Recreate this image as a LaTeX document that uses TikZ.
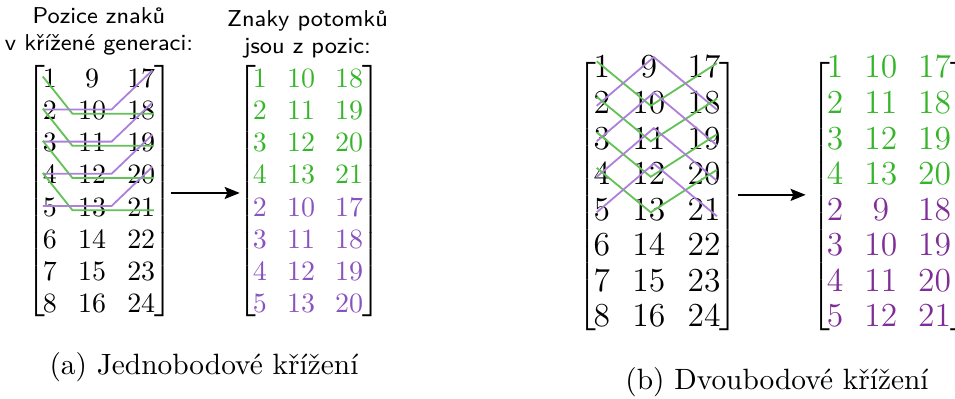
\documentclass[tikz,border=0pt]{standalone}
\usepackage{tikz}
\usetikzlibrary{arrows.meta,positioning,matrix}
\definecolor{kidgreen}{HTML}{36B52B}
\definecolor{kidpurple}{HTML}{8A52BE}
\definecolor{kidplum}{HTML}{7E2E96}
\definecolor{cutgreen}{HTML}{62C255}
\definecolor{cutpurple}{HTML}{AD80D9}
\tikzset{
  every left delimiter/.style  = {xshift=4.4pt},
  every right delimiter/.style = {xshift=-3.6pt},
  posmat/.style   = {matrix of math nodes, left delimiter={[}, right delimiter={]},
                     inner sep=2pt, nodes={inner sep=0pt, anchor=center}},
  kids/.style     = {nodes={text=kidgreen},
                     row 5/.style={nodes={text=#1}}, row 6/.style={nodes={text=#1}},
                     row 7/.style={nodes={text=#1}}, row 8/.style={nodes={text=#1}}},
  bigcells/.style = {nodes={font=\fontsize{11.5}{13.8}\selectfont},
                     row sep={12.7pt,between origins}, inner ysep=1pt},
  headtext/.style = {align=center, inner sep=0pt, font=\fontsize{8.2}{9.6}\selectfont\sffamily},
  captext/.style  = {inner sep=0pt, font=\fontsize{10.5}{12.6}\selectfont},
  flow/.style     = {-{Stealth[length=5.4pt,width=4.3pt,inset=1pt]}, line width=0.7pt},
  cutg/.style     = {draw=cutgreen, line width=0.65pt},
  cutp/.style     = {draw=cutpurple, line width=0.65pt},
}
\begin{document}
\begin{tikzpicture}[x=0.3575pt, y=-0.3575pt]
  \useasboundingbox (0,0) rectangle (955,399);

  % (a) one cut point
  \matrix (A) [posmat, row sep={11.5pt,between origins}, column sep=7.6pt] at (99,191) {
    1 & 9  & 17 \\
    2 & 10 & 18 \\
    3 & 11 & 19 \\
    4 & 12 & 20 \\
    5 & 13 & 21 \\
    6 & 14 & 22 \\
    7 & 15 & 23 \\
    8 & 16 & 24 \\
  };
  \matrix (B) [posmat, kids=kidpurple, row sep={11.5pt,between origins}, column sep=7.2pt] at (308,191) {
    1 & 10 & 18 \\
    2 & 11 & 19 \\
    3 & 12 & 20 \\
    4 & 13 & 21 \\
    2 & 10 & 17 \\
    3 & 11 & 18 \\
    4 & 12 & 19 \\
    5 & 13 & 20 \\
  };
  \node[headtext] (ha) at (99,31.5) {Pozice znaků\\v křížené generaci:};
  \node[headtext] (hb) at (307.5,34.5) {Znaky potomků\\jsou z pozic:};
  \foreach \k in {1,...,4} {
    \pgfmathtruncatemacro\nx{\k+1}
    \draw[cutg] ([shift={(-2.5pt,0.7pt)}]A-\k-1.center) -- ([shift={(-7pt,-1.1pt)}]A-\nx-2.center)
                -- ([shift={(4.5pt,-1.1pt)}]A-\nx-3.center);
    \draw[cutp] ([shift={(-2.5pt,0.4pt)}]A-\nx-1.center) -- ([shift={(7pt,0.4pt)}]A-\nx-2.center)
                -- ([shift={(4pt,2.9pt)}]A-\k-3.center);
  }
  \draw[flow, shorten <=3.3pt, shorten >=2.5pt] ([yshift=-0.7pt]A.east) -- ([yshift=-0.7pt]B.west);
  \node[captext] (capa) at (204,367) {(a) Jednobodové křížení};

  % (b) two cut points
  \begin{scope}[every left delimiter/.append style={yshift=-1.8pt},
                every right delimiter/.append style={yshift=-1.8pt}]
  \matrix (C) [posmat, bigcells, column sep=8pt] at (657,191.5) {
    1 & 9  & 17 \\
    2 & 10 & 18 \\
    3 & 11 & 19 \\
    4 & 12 & 20 \\
    5 & 13 & 21 \\
    6 & 14 & 22 \\
    7 & 15 & 23 \\
    8 & 16 & 24 \\
  };
  \matrix (D) [posmat, bigcells, kids=kidplum, column sep=7.5pt] at (889,191.5) {
    1 & 10 & 17 \\
    2 & 11 & 18 \\
    3 & 12 & 19 \\
    4 & 13 & 20 \\
    2 & 9  & 18 \\
    3 & 10 & 19 \\
    4 & 11 & 20 \\
    5 & 12 & 21 \\
  };
  \end{scope}
  \foreach \k in {1,...,4} {
    \pgfmathtruncatemacro\nx{\k+1}
    \draw[cutg] ([shift={(-1.8pt,2.1pt)}]C-\k-1.center) -- ([shift={(0.7pt,-1.1pt)}]C-\nx-2.center)
                -- ([shift={(4.6pt,1.4pt)}]C-\k-3.center);
    \draw[cutp] ([shift={(-1.8pt,-1.1pt)}]C-\nx-1.center) -- ([shift={(1.8pt,3.6pt)}]C-\k-2.center)
                -- ([shift={(4.6pt,-2.5pt)}]C-\nx-3.center);
  }
  \draw[flow, shorten <=4pt, shorten >=5.4pt] ([yshift=-1.2pt]C.east) -- ([yshift=-1.2pt]D.west);
  \node[captext] (capb) at (777,382) {(b) Dvoubodové křížení};
\end{tikzpicture}
\end{document}
